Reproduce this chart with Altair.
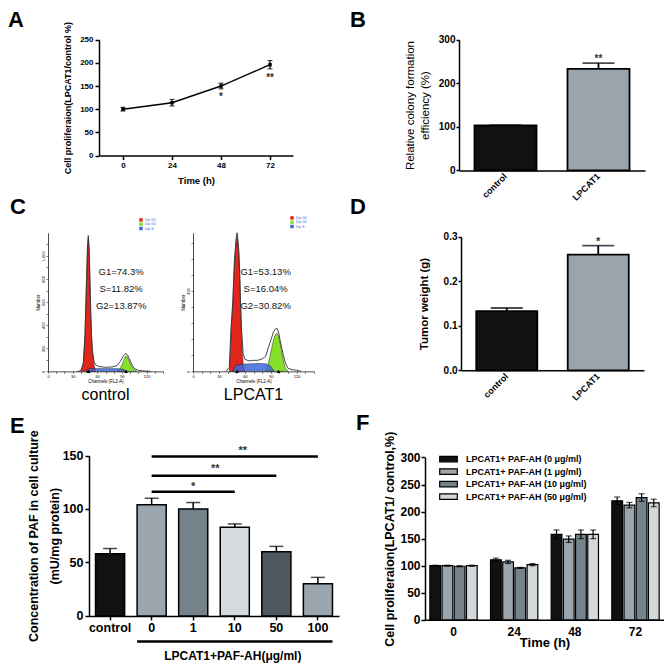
import altair as alt
import pandas as pd

FONT = "Liberation Sans"

# ---------------- Panel A : line with error bars ----------------
A_time = [0, 24, 48, 72]
A_mean = [100, 114, 150, 196]
A_err = [4, 7, 6, 9]
A_star_time = [48, 72]
A_star_text = ["*", "**"]
A_star_y = [127, 168]
A_xticks = [0, 24, 48, 72]
A_yticks = [0, 50, 100, 150, 200, 250]
A_ytitle = "Cell proliferaion(LPCAT1/control %)"

# ---------------- Panel B : colony formation ----------------
B_groups = ["control", "LPCAT1"]
B_mean = [103, 233]
B_err = [1, 13]
B_colors = ["#111111", "#99a4ad"]
B_star_group = ["LPCAT1"]
B_star_text = ["**"]
B_star_y = [255]
B_yticks = [0, 100, 200, 300]

# ---------------- Panel C : cell-cycle histograms ----------------
C_phases = ["Dip G1", "Dip G2", "Dip S"]
C_phase_colors = ["#e3261c", "#86e02a", "#3d68d8"]

Cc_g1_ch = [40, 43, 45, 47, 48, 49, 50, 51, 52, 53, 54, 56, 58]
Cc_g1_n = [0, 60, 300, 800, 1050, 1150, 1060, 800, 500, 300, 170, 60, 0]
Cc_s_ch = [46, 49, 55, 65, 75, 85, 92, 96]
Cc_s_n = [0, 22, 25, 25, 25, 24, 18, 0]
Cc_g2_ch = [84, 87, 90, 92, 94, 95, 96, 98, 100, 102, 105, 108]
Cc_g2_n = [0, 15, 55, 95, 125, 135, 130, 105, 70, 40, 12, 0]
Cc_out_ch = [36, 40, 43, 45, 47, 48, 49, 50, 51, 52, 53, 54, 56, 58, 62, 70, 78, 84,
             88, 91, 93, 95, 97, 99, 102, 105, 110, 118, 125]
Cc_out_n = [0, 5, 75, 320, 820, 1070, 1175, 1080, 830, 520, 320, 190, 85, 55, 42, 35, 38, 50,
            85, 125, 145, 155, 140, 110, 60, 25, 8, 3, 0]
Cc_text = ["G1=74.3%", "S=11.82%", "G2=13.87%"]
Cc_text_ch = [89, 89, 89]
Cc_text_n = [857, 711, 566]
Cc_peaks = [49, 95]
Cc_yticks = list(range(0, 1200, 50))

Cl_g1_ch = [42, 43, 44, 46, 48, 50, 51, 52, 53, 54, 55, 56, 57, 58, 60]
Cl_g1_n = [0, 80, 200, 330, 540, 650, 670, 640, 590, 480, 330, 200, 100, 40, 0]
Cl_s_ch = [46, 49, 55, 65, 75, 85, 90, 94]
Cl_s_n = [0, 30, 35, 38, 40, 38, 25, 0]
Cl_g2_ch = [84, 87, 90, 93, 95, 97, 99, 101, 103, 105, 107, 110]
Cl_g2_n = [0, 35, 95, 155, 180, 190, 175, 135, 85, 45, 15, 0]
Cl_out_ch = [38, 42, 44, 46, 48, 50, 51, 52, 53, 54, 55, 56, 58, 60, 65, 70, 75, 80, 84, 87,
             90, 93, 95, 97, 99, 101, 104, 107, 110, 115, 120, 125]
Cl_out_n = [0, 20, 215, 345, 560, 665, 690, 655, 600, 500, 350, 220, 90, 60, 52, 55, 55, 62, 75, 115,
            155, 195, 210, 215, 195, 150, 90, 40, 15, 8, 6, 0]
Cl_text = ["G1=53.13%", "S=16.04%", "G2=30.82%"]
Cl_text_ch = [84, 84, 84]
Cl_text_n = [493, 409, 325]
Cl_peaks = [51, 99]
Cl_yticks = list(range(0, 690, 20))
C_xticks = list(range(0, 141, 5))

# ---------------- Panel D : tumor weight ----------------
D_groups = ["control", "LPCAT1"]
D_mean = [0.133, 0.260]
D_err = [0.007, 0.020]
D_colors = ["#111111", "#99a4ad"]
D_star_group = ["LPCAT1"]
D_star_text = ["*"]
D_star_y = [0.288]
D_yticks = [0.0, 0.1, 0.2, 0.3]

# ---------------- Panel E : PAF concentration ----------------
E_groups = ["control", "0", "1", "10", "50", "100"]
E_mean = [58, 104, 100, 83, 60, 30]
E_err = [5, 6, 6, 3, 5, 6]
E_colors = ["#111111", "#9ba6ae", "#76828a", "#d4dadd", "#4e585f", "#9ba6ae"]
E_sig_start = ["0", "0", "0"]
E_sig_end = ["10", "50", "100"]
E_sig_y = [116, 131, 149]
E_star_text = ["*", "**", "**"]
E_star_at = ["1", "1", "10"]
E_star_y = [121, 137, 154]
E_yticks = [0, 50, 100, 150]

# ---------------- Panel F : proliferation with PAF-AH ----------------
F_times = ["0", "24", "48", "72"]
F_series = ["LPCAT1+ PAF-AH (0 μg/ml)", "LPCAT1+ PAF-AH (1 μg/ml)",
            "LPCAT1+ PAF-AH (10 μg/ml)", "LPCAT1+ PAF-AH (50 μg/ml)"]
F_colors = ["#111111", "#9aa5ad", "#77838a", "#d3d8db"]
F_s0 = [100, 111, 158, 220]
F_e0 = [1, 3, 8, 7]
F_s1 = [100, 107, 149, 212]
F_e1 = [1, 3, 6, 5]
F_s2 = [99, 96, 158, 226]
F_e2 = [1, 1, 8, 7]
F_s3 = [100, 102, 158, 216]
F_e3 = [1, 2, 8, 7]
F_yticks = [0, 50, 100, 150, 200, 250, 300]

# ---------------- layout (one canvas, each panel has its own scales) ----------------
W, H = 656, 652


def X(x):
    return x - 2


def Y(y):
    return (y - 3) * 0.99


def ax(**kw):
    base = dict(domainColor="black", tickColor="black", labelColor="black", titleColor="black",
                labelFont=FONT, titleFont=FONT, labelFontWeight="bold", titleFontWeight="bold",
                grid=False, domainWidth=1.5, tickWidth=1.5, labelFlush=False)
    base.update(kw)
    return alt.Axis(**base)


def ax_x(yref, **kw):
    return ax(orient="bottom", offset=Y(yref) - H, **kw)


def ax_y(xref, **kw):
    return ax(orient="left", offset=-X(xref), **kw)


def letter(ch, x, y):
    return alt.Chart(pd.DataFrame({"t": [ch]})).mark_text(
        align="left", baseline="alphabetic", fontSize=22, fontWeight="bold", font=FONT, color="black"
    ).encode(x=alt.value(X(x)), y=alt.value(Y(y)), text="t:N")


def label(txt, x, y, size, weight="normal"):
    return alt.Chart(pd.DataFrame({"t": [txt]})).mark_text(
        align="center", baseline="middle", fontSize=size, fontWeight=weight, font=FONT, color="black"
    ).encode(x=alt.value(X(x)), y=alt.value(Y(y)), text="t:N")


# ================= Panel A =================
dfA = pd.DataFrame({"time": A_time, "mean": A_mean,
                    "lo": [m - e for m, e in zip(A_mean, A_err)],
                    "hi": [m + e for m, e in zip(A_mean, A_err)]})
dfA_star = pd.DataFrame({"time": A_star_time, "y": A_star_y, "t": A_star_text})
xA = alt.Scale(domain=[-11.75, 83.25], range=[X(93), X(287)], nice=False, zero=False)
yA = alt.Scale(domain=[0, 250], range=[Y(150), Y(33)], nice=False, zero=False)
A_line = alt.Chart(dfA).mark_line(color="black", strokeWidth=1.4).encode(
    x=alt.X("time:Q", scale=xA, title="Time (h)",
            axis=ax_x(150, values=A_xticks, labelFontSize=8, titleFontSize=9.5, tickSize=4,
                      labelPadding=2, titlePadding=6)),
    y=alt.Y("mean:Q", scale=yA, title=A_ytitle,
            axis=ax_y(93, values=A_yticks, labelFontSize=8, titleFontSize=9, tickSize=4,
                      labelPadding=2, titlePadding=7)))
A_errb = alt.Chart(dfA).mark_errorbar(ticks=True, color="black", thickness=1.2, size=5).encode(
    x=alt.X("time:Q", scale=xA, title="Time (h)"), y=alt.Y("lo:Q", scale=yA, title=A_ytitle), y2="hi:Q")
A_pts = alt.Chart(dfA).mark_point(filled=True, color="black", size=12, shape="square", opacity=1).encode(
    x=alt.X("time:Q", scale=xA, title="Time (h)"), y=alt.Y("mean:Q", scale=yA, title=A_ytitle))
A_stars = alt.Chart(dfA_star).mark_text(fontSize=10, font=FONT, fontWeight="bold", color="#333",
                                         baseline="middle").encode(
    x=alt.X("time:Q", scale=xA, title="Time (h)"), y=alt.Y("y:Q", scale=yA, title=A_ytitle), text="t:N")
A = alt.layer(A_line, A_errb, A_pts, A_stars)


# ================= Panels B and D =================
def bar_panel(groups, means, errs, colors, yticks, ydom, ytitle, tweight, tsize, tpad, fmt,
              sgrp, stext, sy, star_size, box):
    x0, x1, y0, y1 = box
    df = pd.DataFrame({"grp": groups, "mean": means, "hi": [m + e for m, e in zip(means, errs)]})
    dfs = pd.DataFrame({"grp": sgrp, "y": sy, "t": stext})
    xs = alt.Scale(domain=groups, range=[X(x0), X(x1)], paddingInner=0.333, paddingOuter=0.1667)
    ys = alt.Scale(domain=ydom, range=[Y(y0), Y(y1)], nice=False, zero=False)
    xe = dict(sort=groups, scale=xs, title=None)
    bars = alt.Chart(df).mark_bar(stroke="black", strokeWidth=1.8).encode(
        x=alt.X("grp:N", **xe,
                axis=ax_x(y0, labelAngle=-45, labelAlign="right", labelBaseline="middle",
                          labelFontSize=9, ticks=False, labelPadding=4)),
        y=alt.Y("mean:Q", scale=ys, title=ytitle,
                axis=ax_y(x0, values=yticks, format=fmt, titleFontWeight=tweight,
                          titleFontSize=tsize, labelFontSize=10, tickSize=3, labelPadding=1,
                          titlePadding=tpad, titleLineHeight=15)),
        color=alt.Color("grp:N", scale=alt.Scale(domain=groups, range=colors), legend=None))
    rule = alt.Chart(df).mark_rule(color="black", strokeWidth=1.8).encode(
        x=alt.X("grp:N", **xe), y=alt.Y("mean:Q", scale=ys, title=ytitle), y2="hi:Q")
    cap = alt.Chart(df).mark_tick(color="black", thickness=1.8, size=32).encode(
        x=alt.X("grp:N", **xe), y=alt.Y("hi:Q", scale=ys, title=ytitle))
    stars = alt.Chart(dfs).mark_text(fontSize=star_size, font=FONT, fontWeight="bold", color="#333",
                                     baseline="middle").encode(
        x=alt.X("grp:N", **xe), y=alt.Y("y:Q", scale=ys, title=ytitle), text="t:N")
    return alt.layer(bars, rule, cap, stars)


B = bar_panel(B_groups, B_mean, B_err, B_colors, B_yticks, [0, 300],
              ["Relative colony formation", "efficiency (%)"], "normal", 11.5, 8, "d",
              B_star_group, B_star_text, B_star_y, 10, (453, 639, 165, 33))
D = bar_panel(D_groups, D_mean, D_err, D_colors, D_yticks, [0, 0.3],
              "Tumor weight (g)", "bold", 11.5, 14, ".1f",
              D_star_group, D_star_text, D_star_y, 11, (455, 638, 367, 232))


# ================= Panel C =================
def hist_panel(g1c, g1n, sc, sn, g2c, g2n, oc, on, texts, tch, tn, peaks, yticks, ymax, major,
               box, legxy):
    x0, x1, y0, y1 = box
    xs = alt.Scale(domain=[0, 140], range=[X(x0), X(x1)], nice=False, zero=False)
    ys = alt.Scale(domain=[0, ymax], range=[Y(y0), Y(y1)], nice=False, zero=False)
    leg = alt.Legend(orient="none", legendX=X(legxy[0]), legendY=Y(legxy[1]), title=None,
                     symbolType="square", symbolSize=12, symbolStrokeWidth=0, labelFontSize=3.5,
                     labelColor="#3a6bd0", labelFont=FONT, rowPadding=0.3, labelOffset=2, padding=0)
    col = alt.Color("phase:N", scale=alt.Scale(domain=C_phases, range=C_phase_colors), legend=leg)
    xax = ax_x(y0, values=C_xticks, labelExpr="datum.value % 30 === 0 ? datum.label : ''",
               labelFontSize=4, labelFontWeight="normal", tickSize=2, tickWidth=0.5, domainWidth=0.7,
               titleFontSize=4.5, titleFontWeight="normal", titlePadding=0, labelPadding=1)
    yax = ax_y(x0, values=yticks, labelExpr="datum.value %% %d === 0 ? datum.label : ''" % major,
               labelFontSize=4, labelFontWeight="normal", labelAngle=-90, labelAlign="center",
               labelBaseline="bottom", tickSize=2, tickWidth=0.5, domainWidth=0.7,
               titleFontSize=4.5, titleFontWeight="normal", titlePadding=1, labelPadding=1)
    xe = dict(scale=xs, title="Channels (FL2-A)")
    ye = dict(scale=ys, title="Number")

    def area(ch, n, ph, op):
        df = pd.DataFrame({"ch": ch, "n": n, "phase": [ph] * len(ch)})
        return alt.Chart(df).mark_area(stroke="black", strokeWidth=0.4, opacity=op).encode(
            x=alt.X("ch:Q", **xe, axis=xax), y=alt.Y("n:Q", **ye, axis=yax, stack=None), color=col)

    layers = [area(g1c, g1n, "Dip G1", 1), area(g2c, g2n, "Dip G2", 1), area(sc, sn, "Dip S", 0.85)]
    dfo = pd.DataFrame({"ch": oc, "n": on})
    layers.append(alt.Chart(dfo).mark_line(color="#333", strokeWidth=0.9).encode(
        x=alt.X("ch:Q", **xe), y=alt.Y("n:Q", **ye)))
    dfp = pd.DataFrame({"ch": peaks, "n": [0] * len(peaks)})
    layers.append(alt.Chart(dfp).mark_point(shape="triangle-up", filled=True, color="black", size=14,
                                            opacity=1).encode(
        x=alt.X("ch:Q", **xe), y=alt.Y("n:Q", **ye)))
    dft = pd.DataFrame({"ch": tch, "n": tn, "t": texts})
    layers.append(alt.Chart(dft).mark_text(fontSize=9.5, font=FONT, color="#111", baseline="middle").encode(
        x=alt.X("ch:Q", **xe), y=alt.Y("n:Q", **ye), text="t:N"))
    return alt.layer(*layers)


Cc = hist_panel(Cc_g1_ch, Cc_g1_n, Cc_s_ch, Cc_s_n, Cc_g2_ch, Cc_g2_n, Cc_out_ch, Cc_out_n,
                Cc_text, Cc_text_ch, Cc_text_n, Cc_peaks, Cc_yticks, 1200, 200,
                (42, 157, 368, 228), (133, 213))
Cl = hist_panel(Cl_g1_ch, Cl_g1_n, Cl_s_ch, Cl_s_n, Cl_g2_ch, Cl_g2_n, Cl_out_ch, Cl_out_n,
                Cl_text, Cl_text_ch, Cl_text_n, Cl_peaks, Cl_yticks, 690, 100,
                (187, 308, 368, 228), (284, 211))


# ================= Panel E =================
dfE = pd.DataFrame({"grp": E_groups, "mean": E_mean, "hi": [m + e for m, e in zip(E_mean, E_err)]})
xE = alt.Scale(domain=E_groups, range=[X(83), X(333)], paddingInner=0.3, paddingOuter=0.157)
yE = alt.Scale(domain=[0, 150], range=[Y(615), Y(453)], nice=False, zero=False)
E_yt = ["Concentration of PAF in cell culture", "(mU/mg protein)"]
xeE = dict(sort=E_groups, scale=xE, title=None)
E_bars = alt.Chart(dfE).mark_bar(stroke="black", strokeWidth=1.5).encode(
    x=alt.X("grp:N", **xeE, axis=ax_x(615, labelAngle=0, labelFontSize=12.5, tickSize=4, labelPadding=2)),
    y=alt.Y("mean:Q", scale=yE, title=E_yt,
            axis=ax_y(83, values=E_yticks, titleFontSize=12.5, titleLineHeight=21, titlePadding=1,
                      labelFontSize=12.5, tickSize=4, labelPadding=2)),
    color=alt.Color("grp:N", scale=alt.Scale(domain=E_groups, range=E_colors), legend=None))
E_rule = alt.Chart(dfE).mark_rule(color="black", strokeWidth=1.5).encode(
    x=alt.X("grp:N", **xeE), y=alt.Y("mean:Q", scale=yE, title=E_yt), y2="hi:Q")
E_cap = alt.Chart(dfE).mark_tick(color="black", thickness=1.5, size=14).encode(
    x=alt.X("grp:N", **xeE), y=alt.Y("hi:Q", scale=yE, title=E_yt))
dfEs = pd.DataFrame({"start": E_sig_start, "end": E_sig_end, "y": E_sig_y})
E_sig = alt.Chart(dfEs).mark_rule(color="black", strokeWidth=2.5).encode(
    x=alt.X("start:N", **xeE), x2="end:N", y=alt.Y("y:Q", scale=yE, title=E_yt))
E_star_layers = []
for i, dx in enumerate([0, 22, 8]):
    dfst = pd.DataFrame({"at": [E_star_at[i]], "y": [E_star_y[i]], "t": [E_star_text[i]]})
    E_star_layers.append(alt.Chart(dfst).mark_text(fontSize=11, font=FONT, fontWeight="bold", color="#333",
                                                   baseline="middle", dx=dx).encode(
        x=alt.X("at:N", **xeE), y=alt.Y("y:Q", scale=yE, title=E_yt), text="t:N"))
dfEu = pd.DataFrame({"start": ["0"], "end": ["100"], "mid": ["10"], "t": ["LPCAT1+PAF-AH(μg/ml)"]})
E_under = alt.Chart(dfEu).mark_rule(color="black", strokeWidth=2.5).encode(
    x=alt.X("start:N", **xeE, bandPosition=0),
    x2=alt.X2("end:N", bandPosition=1), y=alt.value(Y(641)))
E_label = alt.Chart(dfEu).mark_text(fontSize=12, font=FONT, fontWeight="bold", color="black",
                                    baseline="middle", dx=-2).encode(
    x=alt.X("mid:N", **xeE), y=alt.value(Y(656)), text="t:N")
E = alt.layer(E_bars, E_rule, E_cap, E_sig, *E_star_layers, E_under, E_label)


# ================= Panel F =================
rows = []
for s, vals, errs in zip(F_series, [F_s0, F_s1, F_s2, F_s3], [F_e0, F_e1, F_e2, F_e3]):
    for t, v, e in zip(F_times, vals, errs):
        rows.append({"time": t, "series": s, "mean": v, "lo": v - e, "hi": v + e})
dfF = pd.DataFrame(rows)
xF = alt.Scale(domain=F_times, range=[X(419), X(658)], paddingInner=0.22, paddingOuter=0.08)
oF = alt.Scale(domain=F_series, paddingInner=0.12)
yF = alt.Scale(domain=[0, 300], range=[Y(619), Y(455)], nice=False, zero=False)
F_yt = "Cell proliferaion(LPCAT1/ control,%)"
F_leg = alt.Legend(orient="none", legendX=X(436), legendY=Y(450), title=None,
                   symbolType="M-1.6,-0.5H1.6V0.5H-1.6Z", symbolSize=121, symbolStrokeColor="black",
                   symbolStrokeWidth=1.2, labelFontSize=9, labelFontWeight="bold", labelFont=FONT,
                   labelColor="black", rowPadding=0.5, labelOffset=11, padding=0)
xeF = dict(sort=F_times, scale=xF, title="Time (h)")
oeF = dict(sort=F_series, scale=oF)
F_bars = alt.Chart(dfF).mark_bar(stroke="black", strokeWidth=1.2).encode(
    x=alt.X("time:N", **xeF,
            axis=ax_x(619, labelAngle=0, ticks=False, labelFontSize=12, labelPadding=7,
                      titleFontSize=13, titlePadding=-1)),
    xOffset=alt.XOffset("series:N", **oeF),
    y=alt.Y("mean:Q", scale=yF, title=F_yt,
            axis=ax_y(419, values=F_yticks, titleFontSize=12.5, titlePadding=3, labelFontSize=12,
                      tickSize=4, labelPadding=1)),
    color=alt.Color("series:N", sort=F_series, scale=alt.Scale(domain=F_series, range=F_colors),
                    legend=F_leg))
F_rule = alt.Chart(dfF).mark_rule(color="black", strokeWidth=1.2).encode(
    x=alt.X("time:N", **xeF), xOffset=alt.XOffset("series:N", **oeF),
    y=alt.Y("lo:Q", scale=yF, title=F_yt), y2="hi:Q")
F_cap_lo = alt.Chart(dfF).mark_tick(color="black", thickness=1.2, size=6).encode(
    x=alt.X("time:N", **xeF), xOffset=alt.XOffset("series:N", **oeF),
    y=alt.Y("lo:Q", scale=yF, title=F_yt))
F_cap_hi = alt.Chart(dfF).mark_tick(color="black", thickness=1.2, size=6).encode(
    x=alt.X("time:N", **xeF), xOffset=alt.XOffset("series:N", **oeF),
    y=alt.Y("hi:Q", scale=yF, title=F_yt))
F = alt.layer(F_bars, F_rule, F_cap_lo, F_cap_hi)

# ================= panel letters and captions =================
texts = alt.layer(
    letter("A", 2, 20), letter("B", 344, 20), letter("C", 4, 209), letter("D", 344, 209),
    letter("E", 4, 430), letter("F", 350, 427),
    label("control", 99.5, 392, 16), label("LPCAT1", 247.5, 392, 16),
)

chart = alt.layer(A, B, Cc, Cl, D, E, F, texts).resolve_scale(
    x="independent", y="independent", color="independent", xOffset="independent"
).properties(width=W, height=H, padding=0)
chart = chart.configure(font=FONT).configure_view(stroke=None)

chart.save("out.html", embed_options={"renderer": "svg", "actions": False})
